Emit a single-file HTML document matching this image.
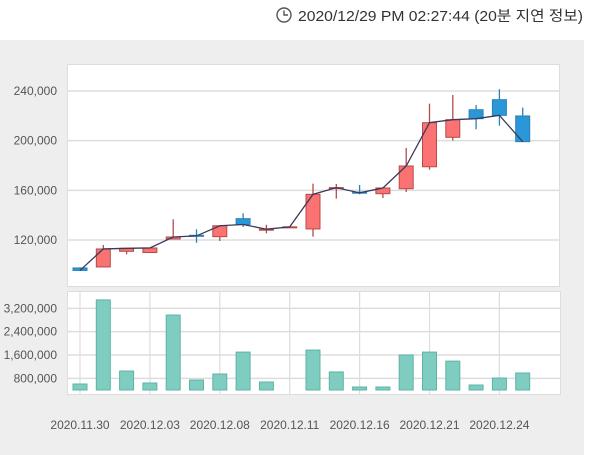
<!DOCTYPE html>
<html><head><meta charset="utf-8">
<style>
body{margin:0;width:600px;height:455px;background:#fff;overflow:hidden;font-family:"Liberation Sans","Noto Sans CJK KR",sans-serif;}
svg{display:block}
</style></head>
<body>
<svg id="chart" width="600" height="455">
<g>
<circle cx="284" cy="15" r="7" fill="none" stroke="#555" stroke-width="1.4"/>
<path d="M284 10.5 V15 H288" fill="none" stroke="#555" stroke-width="1.4"/>
<text x="298" y="21" font-size="14.5" fill="#333" textLength="285" lengthAdjust="spacingAndGlyphs">2020/12/29 PM 02:27:44 (20분 지연 정보)</text>
</g>
<rect x="0" y="40" width="584" height="415" fill="#eeeeee"/>
<rect x="67.5" y="64.5" width="492" height="222" fill="#fff" stroke="#ddd"/>
<rect x="67.5" y="291.5" width="493" height="103" fill="#fff" stroke="#ddd"/>
<g id="grid"></g>
<g id="vol"></g>
<g id="candles"></g>
<g id="labels"></g>
</svg>
<script>
const dates=["11.30","12.01","12.02","12.03","12.04","12.07","12.08","12.09","12.10","12.11","12.14","12.15","12.16","12.17","12.18","12.21","12.22","12.23","12.24","12.28"];
const opens=[97500,98300,110900,109900,120800,123800,122700,137200,128300,130300,128900,161800,158500,157300,161300,179000,202700,224900,233000,219900];
const highs=[98000,116000,113300,113600,136700,128600,131500,141500,132300,131000,165400,165100,164300,161900,194100,229800,236800,228700,241400,226600];
const lows=[95000,98000,108500,109500,120800,117800,119200,130500,125400,130000,122700,153300,156800,153800,158700,176600,200000,209200,212100,199200];
const closes=[95500,112800,113300,113600,122400,123300,131500,132500,128700,130600,156800,162200,158000,161900,179600,214500,216900,217700,220400,199200];
const volumes=[606000,3490000,1050000,640000,2970000,743000,949000,1700000,674000,0,1770000,1020000,503000,503000,1600000,1700000,1390000,571000,811000,983000];
const priceTicks=[120000,160000,200000,240000];
const volTicks=[800000,1600000,2400000,3200000];
const xLabels=["2020.11.30","2020.12.03","2020.12.08","2020.12.11","2020.12.16","2020.12.21","2020.12.24"];
const xLabelIdx=[0,3,6,9,12,15,18];

const NS="http://www.w3.org/2000/svg";
const X=i=>80+i*23.3;
const Yp=v=>91+(240000-v)*49.67/40000;
const Yv=v=>390-(v-400000)*23.33/800000;
function mk(tag,attrs,parent){const e=document.createElementNS(NS,tag);for(const k in attrs)e.setAttribute(k,attrs[k]);document.getElementById(parent).appendChild(e);return e;}

priceTicks.forEach(t=>{
  const y=Yp(t);
  const l=mk('line',{x1:68,x2:559,y1:y,y2:y,stroke:'#ddd','stroke-width':1.5},'grid');
  
  
  const tx=mk('text',{x:57,y:y+4,'font-size':12,fill:'#555','text-anchor':'end'},'labels');
  tx.textContent=t.toLocaleString('en-US');
  
  
});
volTicks.forEach(t=>{
  const y=Yv(t);
  const l=mk('line',{x1:68,x2:560,y1:y,y2:y,stroke:'#ddd','stroke-width':1.5},'grid');
  
  
  const tx=mk('text',{x:57,y:y+4,'font-size':12,fill:'#555','text-anchor':'end'},'labels');
  tx.textContent=t.toLocaleString('en-US');
  
  
});
xLabelIdx.forEach((idx,k)=>{
  const x=X(idx);
  const l=mk('line',{x1:x,x2:x,y1:292,y2:394,stroke:'#ddd','stroke-width':1.2},'grid');
  
  
  const tx=mk('text',{x:x,y:429,'font-size':12,fill:'#555','text-anchor':'middle'},'labels');
  tx.textContent=xLabels[k];
  
  
});
volumes.forEach((v,i)=>{
  if(v<=0)return;
  const y=Yv(v);
  const r=mk('rect',{x:X(i)-7,y:y,width:14,height:Math.max(390-y,1),fill:'#7fcdc0',stroke:'#5fb3a6','stroke-width':1},'vol');
  
  
});
dates.forEach((d,i)=>{
  const up=closes[i]>=opens[i];
  const fill=up?'#fa7272':'#2a98d8';
  const stroke=up?'#b84a4a':'#2a80b8';
  const x=X(i);
  const w=mk('line',{x1:x,x2:x,y1:Yp(highs[i]),y2:Yp(lows[i]),stroke:stroke,'stroke-width':1.3},'candles');
  
  
  const top=Yp(Math.max(opens[i],closes[i])),bot=Yp(Math.min(opens[i],closes[i]));
  const b=mk('rect',{x:x-7,y:top,width:14,height:Math.max(bot-top,1),fill:fill,stroke:stroke,'stroke-width':1},'candles');
  
  
});
const pts=closes.map((c,i)=>X(i)+','+Yp(c)).join(' ');
const pl=mk('polyline',{points:pts,fill:'none',stroke:'#3a3a5a','stroke-width':1.3},'candles');


</script>
</body></html>
